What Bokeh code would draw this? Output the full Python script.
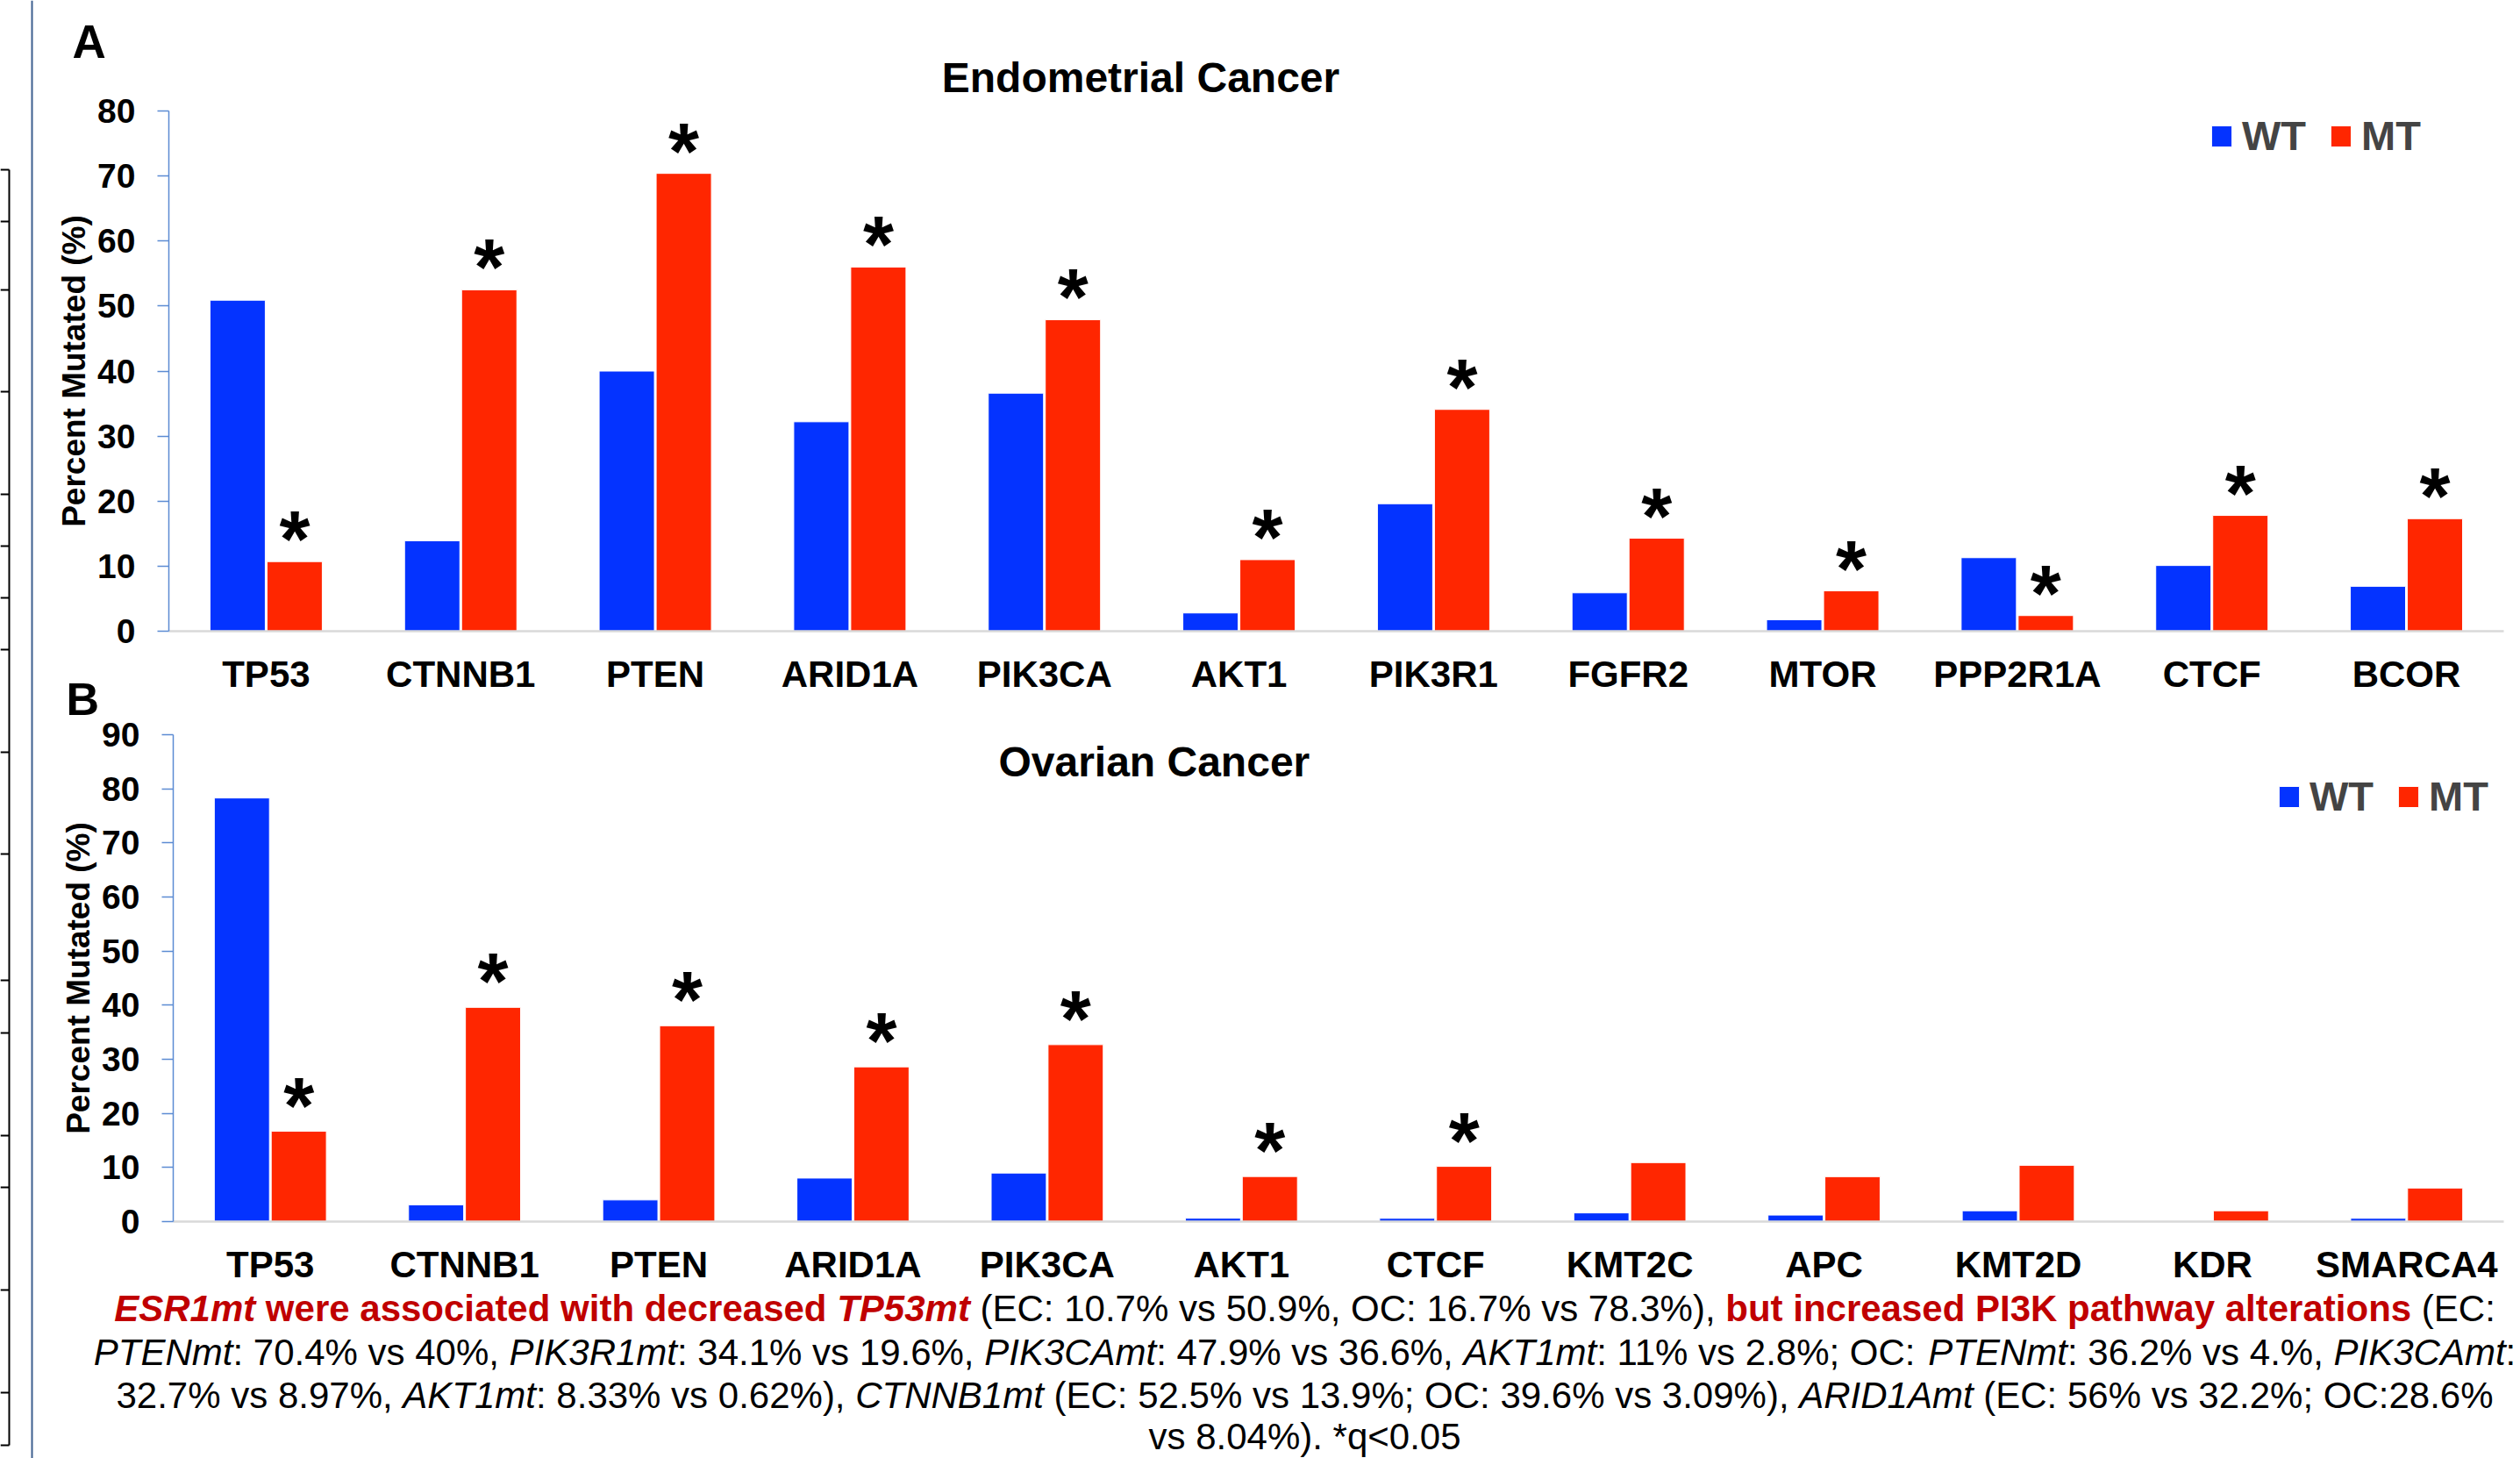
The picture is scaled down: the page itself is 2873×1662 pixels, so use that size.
from bokeh.plotting import figure
from bokeh.models import (ColumnDataSource, Range1d, FixedTicker, LinearAxis,
                          Label, Legend, LegendItem, Span, BoxAnnotation)
from bokeh.transform import dodge
from bokeh.core.properties import value
from bokeh.embed import file_html
from bokeh.resources import INLINE

# ---------------- data ----------------
genes_ec = ["TP53", "CTNNB1", "PTEN", "ARID1A", "PIK3CA", "AKT1", "PIK3R1",
            "FGFR2", "MTOR", "PPP2R1A", "CTCF", "BCOR"]
wt_ec = [50.9, 13.9, 40.0, 32.2, 36.6, 2.8, 19.6, 5.9, 1.75, 11.3, 10.1, 6.9]
mt_ec = [10.7, 52.5, 70.4, 56.0, 47.9, 11.0, 34.1, 14.3, 6.2, 2.4, 17.8, 17.3]
sig_ec = [1, 1, 1, 1, 1, 1, 1, 1, 1, 1, 1, 1]
yticks_ec = [0, 10, 20, 30, 40, 50, 60, 70, 80]

genes_oc = ["TP53", "CTNNB1", "PTEN", "ARID1A", "PIK3CA", "AKT1", "CTCF",
            "KMT2C", "APC", "KMT2D", "KDR", "SMARCA4"]
wt_oc = [78.3, 3.09, 4.0, 8.04, 8.97, 0.62, 0.6, 1.6, 1.2, 2.0, 0.0, 0.6]
mt_oc = [16.7, 39.6, 36.2, 28.6, 32.7, 8.33, 10.2, 10.9, 8.3, 10.4, 2.0, 6.2]
sig_oc = [1, 1, 1, 1, 1, 1, 1, 0, 0, 0, 0, 0]
yticks_oc = [0, 10, 20, 30, 40, 50, 60, 70, 80, 90]

series = ["WT", "MT"]
title_ec = "Endometrial Cancer"
title_oc = "Ovarian  Cancer"
ylabel = "Percent Mutated (%)"

caption = [
    [("ESR1mt", "bold italic", "#C00000"),
     (" were associated with decreased ", "bold", "#C00000"),
     ("TP53mt", "bold italic", "#C00000"),
     (" (EC: 10.7% vs 50.9%, OC: 16.7% vs 78.3%), ", "normal", "black"),
     ("but increased PI3K pathway alterations", "bold", "#C00000"),
     (" (EC:", "normal", "black")],
    [("PTENmt", "italic", "black"), (": 70.4% vs 40%, ", "normal", "black"),
     ("PIK3R1mt", "italic", "black"), (": 34.1% vs 19.6%, ", "normal", "black"),
     ("PIK3CAmt", "italic", "black"), (": 47.9% vs 36.6%, ", "normal", "black"),
     ("AKT1mt", "italic", "black"), (": 11% vs 2.8%; OC: ", "normal", "black"),
     ("PTENmt", "italic", "black"), (": 36.2% vs 4.%, ", "normal", "black"),
     ("PIK3CAmt", "italic", "black"), (":", "normal", "black")],
    [("32.7% vs 8.97%, ", "normal", "black"), ("AKT1mt", "italic", "black"),
     (": 8.33% vs 0.62%), ", "normal", "black"), ("CTNNB1mt", "italic", "black"),
     (" (EC: 52.5% vs 13.9%; OC: 39.6% vs 3.09%), ", "normal", "black"),
     ("ARID1Amt", "italic", "black"),
     (" (EC: 56% vs 32.2%; OC:28.6%", "normal", "black")],
    [("vs 8.04%). *q<0.05", "normal", "black")],
]

# ---------------- style ----------------
FONT = "Liberation Sans"
BLUE = "#0433FF"
RED = "#FF2600"
AXIS_BLUE = "#5B8BD3"
AXIS_GRAY = "#D9D9D9"
W, H = 2873, 1662
OFF = 0.1465
BW = 0.284

# Arial/Liberation advance widths (1/1000 em) used to lay out the caption runs
_UP = "ABCDEFGHIJKLMNOPQRSTUVWXYZ"
_LO = "abcdefghijklmnopqrstuvwxyz"
REG = dict(zip(_UP, [667, 667, 722, 722, 667, 611, 778, 722, 278, 500, 667, 556, 833,
                     722, 778, 667, 778, 722, 667, 611, 722, 667, 944, 667, 667, 611]))
REG.update(zip(_LO, [556, 556, 500, 556, 556, 278, 556, 556, 222, 222, 500, 222, 833,
                     556, 556, 556, 556, 333, 500, 278, 556, 500, 722, 500, 500, 500]))
REG.update({" ": 278, "%": 889, "(": 333, ")": 333, ",": 278, ".": 278, ":": 278,
            ";": 278, "*": 389, "<": 584})
BLD = dict(zip(_UP, [722, 722, 722, 722, 667, 611, 778, 722, 278, 556, 722, 611, 833,
                     722, 778, 667, 778, 722, 667, 611, 722, 667, 944, 667, 667, 611]))
BLD.update(zip(_LO, [556, 611, 556, 611, 556, 333, 611, 611, 278, 278, 556, 278, 889,
                     611, 611, 611, 611, 389, 556, 333, 611, 556, 778, 556, 556, 500]))
BLD.update({" ": 278, "%": 889, "(": 333, ")": 333, ",": 278, ".": 278, ":": 333,
            ";": 333, "*": 389, "<": 584})
for d in "0123456789":
    REG[d] = 556
    BLD[d] = 556


def text_width(s, style, size):
    table = BLD if "bold" in style else REG
    return sum(table.get(c, 556) for c in s) / 1000.0 * size


class Geo:
    """pixel layout of one panel: canvas px <-> data coordinates"""
    def __init__(self, ax_x, zero_y, ppx, ppy):
        self.ax_x, self.zero_y, self.ppx, self.ppy = ax_x, zero_y, ppx, ppy

    def x(self, px):
        return -0.5 + (px - self.ax_x) / self.ppx

    def y(self, py):
        return (self.zero_y - py) / self.ppy


gA = Geo(ax_x=192, zero_y=719, ppx=221.83, ppy=593 / 80)
gB = Geo(ax_x=197, zero_y=1392, ppx=221.42, ppy=555 / 90)

p = figure(width=W, height=H,
           x_range=Range1d(gA.x(0), gA.x(W)), y_range=Range1d(gA.y(H), gA.y(0)),
           output_backend="svg", toolbar_location=None,
           x_axis_location=None, y_axis_location=None,
           min_border_left=0, min_border_right=0, min_border_top=0,
           min_border_bottom=0)
p.extra_x_ranges = {"xb": Range1d(gB.x(0), gB.x(W))}
p.extra_y_ranges = {"yb": Range1d(gB.y(H), gB.y(0))}
p.title.visible = False
p.outline_line_color = None
p.grid.visible = False
p.background_fill_color = "white"
p.border_fill_color = "white"


def make_panel(genes, wt, mt, sig, yticks, star_gap, leg_xy, xr, yr):
    n = len(genes)
    ymax = yticks[-1]
    rn = dict(x_range_name=xr, y_range_name=yr)
    pos = list(range(n))
    src = ColumnDataSource(dict(pos=pos, gene=genes, wt=wt, mt=mt))
    r_wt = p.vbar(x=dodge("pos", -OFF), top="wt", width=BW, source=src,
                  fill_color=BLUE, line_color="white", line_width=1, **rn)
    r_mt = p.vbar(x=dodge("pos", OFF), top="mt", width=BW, source=src,
                  fill_color=RED, line_color="white", line_width=1, **rn)

    sp = [i for i, s in zip(pos, sig) if s]
    sm = [m for m, s in zip(mt, sig) if s]
    ssrc = ColumnDataSource(dict(pos=sp, mt=sm, star=["*"] * len(sp)))
    p.text(x=dodge("pos", OFF), y="mt", text="star", source=ssrc,
           text_font=value(FONT), text_font_size="90px", text_font_style="bold",
           text_align="center", text_baseline="alphabetic", text_color="black",
           y_offset=15 - star_gap, **rn)

    yax = LinearAxis(fixed_location=-0.5, bounds=(0, ymax),
                     ticker=FixedTicker(ticks=yticks), **rn)
    yax.axis_line_color = AXIS_BLUE
    yax.axis_line_width = 1.5
    yax.major_tick_line_color = AXIS_BLUE
    yax.major_tick_line_width = 1.5
    yax.major_tick_out = 13
    yax.major_tick_in = 0
    yax.minor_tick_line_color = None
    yax.major_label_text_font = FONT
    yax.major_label_text_font_size = "39px"
    yax.major_label_text_font_style = "bold"
    yax.major_label_text_color = "black"
    yax.major_label_standoff = 25
    yax.axis_label = ylabel
    yax.axis_label_text_font = FONT
    yax.axis_label_text_font_size = "37px"
    yax.axis_label_text_font_style = "bold"
    yax.axis_label_text_color = "black"
    yax.axis_label_standoff = 3
    p.add_layout(yax, "left")

    xax = LinearAxis(fixed_location=0, bounds=(-0.5, n - 0.5),
                     ticker=FixedTicker(ticks=pos), **rn)
    xax.major_label_overrides = {i: g for i, g in zip(pos, genes)}
    xax.axis_line_color = AXIS_GRAY
    xax.axis_line_width = 2.5
    xax.major_tick_line_color = None
    xax.minor_tick_line_color = None
    xax.major_label_text_font = FONT
    xax.major_label_text_font_size = "42px"
    xax.major_label_text_font_style = "bold"
    xax.major_label_text_color = "black"
    xax.major_label_standoff = 19
    p.add_layout(xax, "below")

    leg = Legend(items=[LegendItem(label=series[0], renderers=[r_wt]),
                        LegendItem(label=series[1], renderers=[r_mt])],
                 orientation="horizontal", location=leg_xy,
                 glyph_width=29, glyph_height=30, label_standoff=9, spacing=25,
                 padding=0, margin=0, border_line_color=None,
                 background_fill_alpha=0, label_text_font=FONT,
                 label_text_font_size="47px", label_text_font_style="bold")
    p.add_layout(leg)


make_panel(genes_ec, wt_ec, mt_ec, sig_ec, yticks_ec, 40, (2518, 1480), "default", "default")
make_panel(genes_oc, wt_oc, mt_oc, sig_oc, yticks_oc, 44, (2595, 727), "xb", "yb")


def add_label(cx, cy, text, size, style="bold", color="black", align="left"):
    p.add_layout(Label(x=gA.x(cx), y=gA.y(cy), text=text, text_font=FONT,
                       text_font_size=size, text_font_style=style,
                       text_color=color, text_align=align,
                       text_baseline="alphabetic"))


def add_box(x0, x1, y0, y1):
    p.add_layout(BoxAnnotation(left=gA.x(x0), right=gA.x(x1),
                               top=gA.y(y0), bottom=gA.y(y1),
                               fill_color="black", fill_alpha=1.0, line_alpha=0))


# panel letters and titles
add_label(82, 47, "A", "53px")
add_label(75, 796, "B", "52px")
add_label(1300, 88, title_ec, "48px", align="center")
add_label(1322, 868, title_oc, "48px", align="center")

# rule and the cut-off table frame at the far left of the page
p.add_layout(Span(location=gA.x(36), dimension="height", line_color="#3F6090",
                  line_width=2))
table_rows = [193, 252, 330, 446, 563, 622, 681, 740, 857, 973, 1117, 1177,
              1294, 1353, 1470, 1587, 1647]
add_box(9, 11, table_rows[0], table_rows[-1])
for ty in table_rows:
    add_box(0, 10, ty - 1, ty + 1)

# caption (mixed styles, each line centred)
CAP_SIZE = 42.0
cap_center = 1487
cap_mid = [1491, 1541, 1590, 1637]
space_w = REG[" "] / 1000.0 * CAP_SIZE
for line, mid in zip(caption, cap_mid):
    total = sum(text_width(t, st, CAP_SIZE) for t, st, c in line)
    x = cap_center - total / 2.0
    for t, st, c in line:
        lead = len(t) - len(t.lstrip(" "))
        core = t.strip(" ")
        add_label(x + lead * space_w, mid, core, "%.1fpx" % CAP_SIZE, style=st, color=c)
        x += text_width(t, st, CAP_SIZE)

open("out.html", "w").write(file_html(p, INLINE))
